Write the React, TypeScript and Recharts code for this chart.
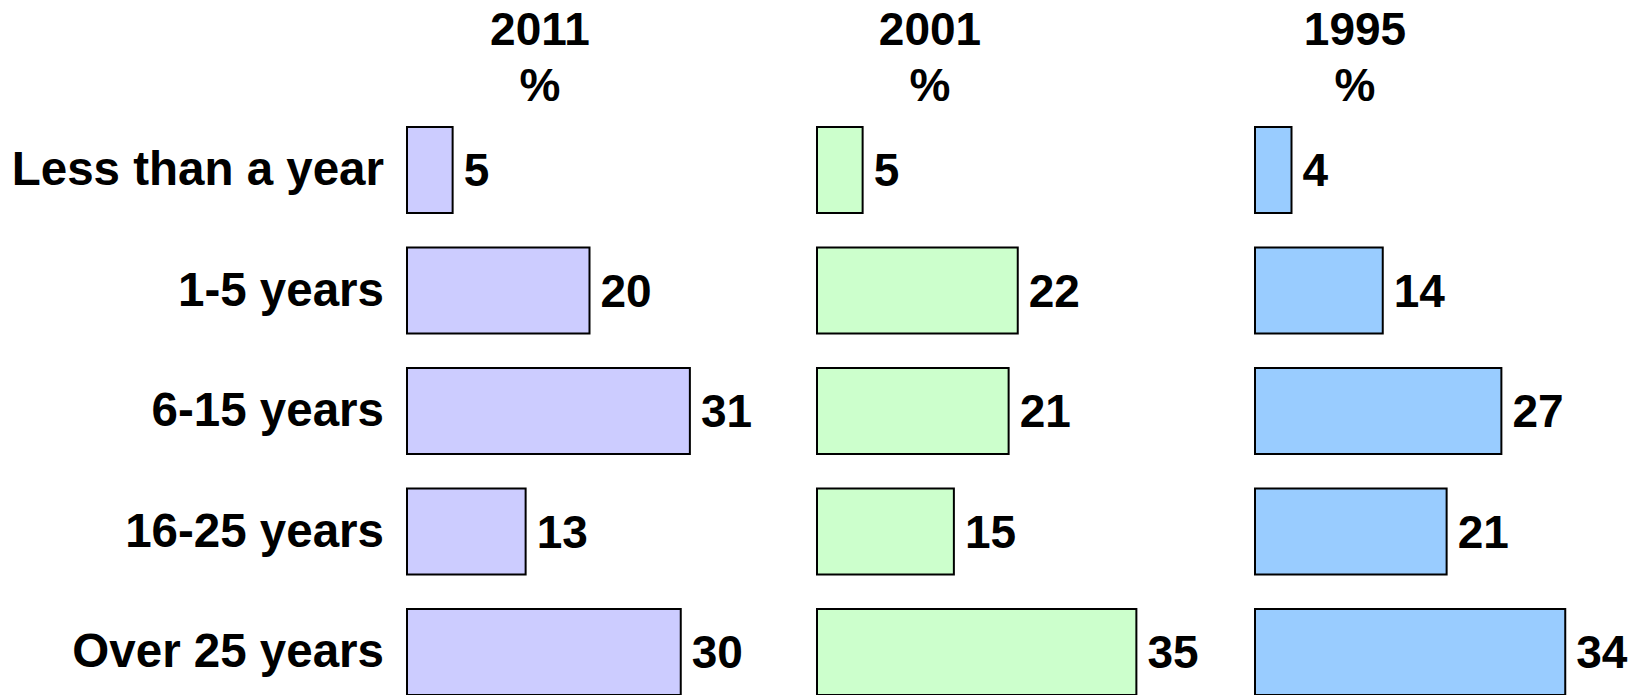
import React from "react"
import { Bar, BarChart, LabelList, XAxis, YAxis } from "recharts"

const categories = ["Less than a year", "1-5 years", "6-15 years", "16-25 years", "Over 25 years"]
const years = ["2011", "2001", "1995"]
const values2011 = [5, 20, 31, 13, 30]
const values2001 = [5, 22, 21, 15, 35]
const values1995 = [4, 14, 27, 21, 34]

const FONT = "'Liberation Sans', Arial, Helvetica, sans-serif"
const fills = ["#ccccff", "#ccffcc", "#99ccff"]

const data = categories.map((cat, i) => ({
  cat,
  y2011: values2011[i],
  y2001: values2001[i],
  y1995: values1995[i],
}))
const keys = ["y2011", "y2001", "y1995"]

// panel placement on the page
const panels = [
  { left: 0, width: 800, marginLeft: 0, axisWidth: 407, titleX: 540 },
  { left: 790, width: 450, marginLeft: 27, axisWidth: 0, titleX: 930 },
  { left: 1230, width: 406, marginLeft: 25, axisWidth: 0, titleX: 1355 },
]
const PLOT_W = 365
const CHART_H = 720

function CategoryTick(props: any) {
  const { x, y, payload } = props
  return (
    <text
      x={x}
      y={y}
      dy={15}
      textAnchor="end"
      fill="#000"
      fontSize={47.5}
      fontWeight="bold"
      fontFamily={FONT}
    >
      {payload.value}
    </text>
  )
}

export default function App() {
  return (
    <div
      style={{
        position: "absolute",
        left: 0,
        top: 0,
        width: 1636,
        height: 695,
        overflow: "hidden",
        background: "#fff",
      }}
    >
      {panels.map((p, idx) => (
        <div
          key={years[idx]}
          style={{
            position: "absolute",
            left: p.titleX - 100,
            top: 1,
            width: 200,
            textAlign: "center",
            fontFamily: FONT,
            fontWeight: "bold",
            fontSize: 46,
            lineHeight: "56px",
            color: "#000",
          }}
        >
          <div>{years[idx]}</div>
          <div>%</div>
        </div>
      ))}
      {panels.map((p, idx) => {
        const marginRight = p.width - p.marginLeft - p.axisWidth - PLOT_W
        return (
          <div key={keys[idx]} style={{ position: "absolute", left: p.left, top: 0 }}>
            <BarChart
              width={p.width}
              height={CHART_H}
              data={data}
              layout="vertical"
              barSize={86}
              margin={{ top: 110, bottom: 7.5, left: p.marginLeft, right: marginRight }}
            >
              <XAxis type="number" domain={[0, 40]} hide />
              <YAxis
                type="category"
                dataKey="cat"
                width={p.axisWidth || 0}
                hide={idx !== 0}
                axisLine={false}
                tickLine={false}
                tickSize={0}
                tickMargin={23}
                interval={0}
                tick={<CategoryTick />}
              />
              <Bar
                dataKey={keys[idx]}
                fill={fills[idx]}
                stroke="#000"
                strokeWidth={2}
                isAnimationActive={false}
              >
                <LabelList
                  dataKey={keys[idx]}
                  position="right"
                  offset={11}
                  fill="#000"
                  fontSize={46}
                  fontWeight="bold"
                  fontFamily={FONT}
                />
              </Bar>
            </BarChart>
          </div>
        )
      })}
    </div>
  )
}
